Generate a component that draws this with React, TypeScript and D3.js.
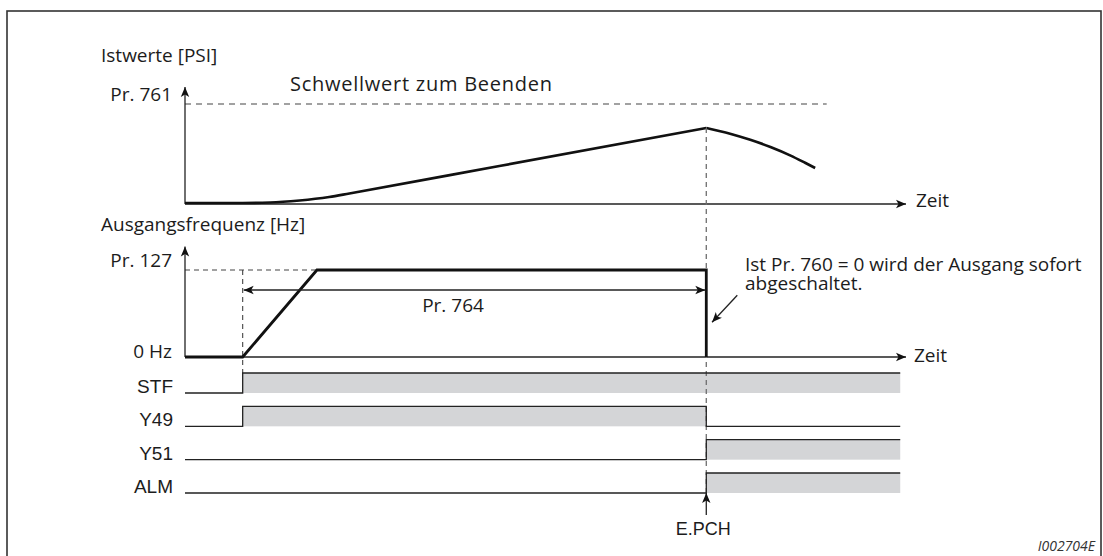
import React from "react";
import * as d3 from "d3";

// time axis (arbitrary units), events on it
const timeAxis = [0, 10];
const tStart = 0.8; // STF on
const tRampEnd = 1.83; // reaches Pr. 127
const tTrip = 7.23; // E.PCH
const tSignalEnd = 9.92;
const tThresholdEnd = 8.9;

// measured value [PSI], as % of Pr. 761
const pressureRise: [number, number][] = [
  [0, 1], [0.62, 1], [1.18, 1.5], [1.59, 3.5], [2.0, 7], [2.28, 10.5], [4.36, 38], [7.23, 76],
];
const pressureFall: [number, number][] = [
  [7.23, 76], [7.56, 70.3], [7.84, 64.2], [8.12, 57], [8.4, 48.4], [8.6, 41.2], [8.74, 36],
];
const pressureThreshold = 100;

// output frequency, as % of Pr. 127
const freqPoints: [number, number][] = [
  [0, 0], [tStart, 0], [tRampEnd, 100], [tTrip, 100], [tTrip, 0],
];

// digital signals: name, [on, off]
const signalNames = ["STF", "Y49", "Y51", "ALM"];
const signalOn: [number, number][] = [
  [tStart, tSignalEnd],
  [tStart, tTrip],
  [tTrip, tSignalEnd],
  [tTrip, tSignalEnd],
];

const W = 1103;
const H = 556;
const FONT = "'Open Sans', sans-serif";
const FONT2 = "'Liberation Sans', Arial, sans-serif";
const TXT = "#1c1c1c";

export default function App() {
  const x = d3.scaleLinear().domain(timeAxis).range([185, 906]);
  const yP = d3.scaleLinear().domain([0, 100]).range([204, 104]);
  const yF = d3.scaleLinear().domain([0, 100]).range([357, 270]);
  const yRow = d3.scalePoint<string>().domain(signalNames).range([393, 493]);
  const rowH = 20;

  const pLine = d3
    .line<[number, number]>()
    .x((d) => x(d[0]))
    .y((d) => yP(d[1]))
    .curve(d3.curveMonotoneX);
  const fLine = d3
    .line<[number, number]>()
    .x((d) => x(d[0]))
    .y((d) => yF(d[1]));

  const signalPath = (name: string, on: [number, number]) => {
    const low = yRow(name)!;
    const high = low - rowH;
    const pts: [number, number][] = [
      [x(0), low],
      [x(on[0]), low],
      [x(on[0]), high],
      [x(on[1]), high],
    ];
    if (on[1] < tSignalEnd) {
      pts.push([x(on[1]), low], [x(tSignalEnd), low]);
    }
    return d3.line()(pts);
  };

  const axisCol = "#222";
  const dashCol = "#6e6e6e";
  const tripX = x(tTrip);
  const startX = x(tStart);

  return (
    <svg
      width={W}
      height={H}
      style={{ position: "absolute", left: 0, top: 0, background: "#fff" }}
    >
      <defs>
        <marker id="ah" viewBox="0 0 10 10" refX="10" refY="5" markerWidth="10" markerHeight="10"
          markerUnits="userSpaceOnUse" orient="auto-start-reverse">
          <path d="M0,0.8 L10,5 L0,9.2 L2.5,5 Z" fill="#111" />
        </marker>
      </defs>

      {/* frame */}
      <rect x={7} y={11} width={1094} height={560} fill="none" stroke="#333" strokeWidth={1.6} />

      {/* ---- top: measured value ---- */}
      <text x={101} y={62} fontFamily={FONT} fontSize={19} fill={TXT}>Istwerte [PSI]</text>
      <text x={172} y={101} textAnchor="end" fontFamily={FONT} fontSize={19} fill={TXT}>Pr. 761</text>
      <text x={290} y={91} fontFamily={FONT} fontSize={20} fill={TXT} textLength={262} lengthAdjust="spacing">
        Schwellwert zum Beenden
      </text>

      <line x1={x(0)} x2={x(tThresholdEnd)} y1={yP(pressureThreshold)} y2={yP(pressureThreshold)}
        stroke="#444" strokeWidth={1.2} strokeDasharray="6 5" />
      <line x1={x(0)} x2={x(0)} y1={yP(0)} y2={yP(117)} stroke={axisCol} strokeWidth={1.3} markerEnd="url(#ah)" />
      <line x1={x(0)} x2={x(10)} y1={yP(0)} y2={yP(0)} stroke={axisCol} strokeWidth={1.3} markerEnd="url(#ah)" />
      <text x={x(10) + 10} y={207} fontFamily={FONT} fontSize={19} fill={TXT}>Zeit</text>

      <path d={pLine(pressureRise)!} fill="none" stroke="#111" strokeWidth={2.7} />
      <path d={pLine(pressureFall)!} fill="none" stroke="#111" strokeWidth={2.7} />

      {/* ---- middle: output frequency ---- */}
      <text x={101} y={231} fontFamily={FONT} fontSize={19} fill={TXT}>Ausgangsfrequenz [Hz]</text>
      <text x={172} y={267} textAnchor="end" fontFamily={FONT} fontSize={19} fill={TXT}>Pr. 127</text>
      <text x={172} y={358} textAnchor="end" fontFamily={FONT} fontSize={19} fill={TXT}>0 Hz</text>

      <line x1={x(0)} x2={x(tRampEnd)} y1={yF(100)} y2={yF(100)} stroke="#444" strokeWidth={1.1} strokeDasharray="5 4" />
      <line x1={startX} x2={startX} y1={yF(100)} y2={yRow("STF")! - rowH} stroke="#444" strokeWidth={1.1} strokeDasharray="5 4" />

      <line x1={x(0)} x2={x(0)} y1={yF(0)} y2={yF(127)} stroke={axisCol} strokeWidth={1.3} markerEnd="url(#ah)" />
      <line x1={x(0)} x2={x(10)} y1={yF(0)} y2={yF(0)} stroke={axisCol} strokeWidth={1.3} markerEnd="url(#ah)" />
      <text x={x(10) + 8} y={362} fontFamily={FONT} fontSize={19} fill={TXT}>Zeit</text>

      {/* ---- signals ---- */}
      {signalNames.map((name, i) => {
        const low = yRow(name)!;
        const on = signalOn[i];
        return (
          <g key={name}>
            <rect x={x(on[0])} y={low - rowH} width={x(on[1]) - x(on[0])} height={rowH} fill="#d4d5d7" />
            <text x={173} y={low} textAnchor="end" fontFamily={FONT2} fontSize={19} fill={TXT}>{name}</text>
          </g>
        );
      })}

      {/* trip marker dashed */}
      <line x1={tripX} x2={tripX} y1={yP(76)} y2={yRow("ALM")!} stroke={dashCol} strokeWidth={1.3} strokeDasharray="5 4" />

      {signalNames.map((name, i) => (
        <path key={name} d={signalPath(name, signalOn[i])!} fill="none" stroke="#222" strokeWidth={1.3} />
      ))}

      <path d={fLine(freqPoints)!} fill="none" stroke="#111" strokeWidth={2.8} />

      {/* Pr. 764 */}
      <line x1={startX + 1} x2={tripX - 1} y1={yF(77)} y2={yF(77)} stroke="#222" strokeWidth={1.3}
        markerStart="url(#ah)" markerEnd="url(#ah)" />
      <text x={453} y={312} textAnchor="middle" fontFamily={FONT} fontSize={19} fill={TXT}>Pr. 764</text>

      {/* note */}
      <text x={745} y={271} fontFamily={FONT} fontSize={19} fill={TXT}>Ist Pr. 760 = 0 wird der Ausgang sofort</text>
      <text x={745} y={290} fontFamily={FONT} fontSize={19} fill={TXT}>abgeschaltet.</text>
      <line x1={x(7.66)} y1={yF(71)} x2={x(7.31)} y2={yF(40)} stroke="#222" strokeWidth={1.3} markerEnd="url(#ah)" />

      {/* E.PCH */}
      <line x1={tripX} x2={tripX} y1={yRow("ALM")! + 22} y2={yRow("ALM")!} stroke="#222" strokeWidth={1.3} markerEnd="url(#ah)" />
      <text x={tripX - 3} y={535} textAnchor="middle" fontFamily={FONT2} fontSize={18} fill={TXT}>E.PCH</text>

      <text x={1095} y={551} textAnchor="end" fontFamily={FONT} fontStyle="italic" fontSize={14} fill="#333">I002704E</text>
    </svg>
  );
}
